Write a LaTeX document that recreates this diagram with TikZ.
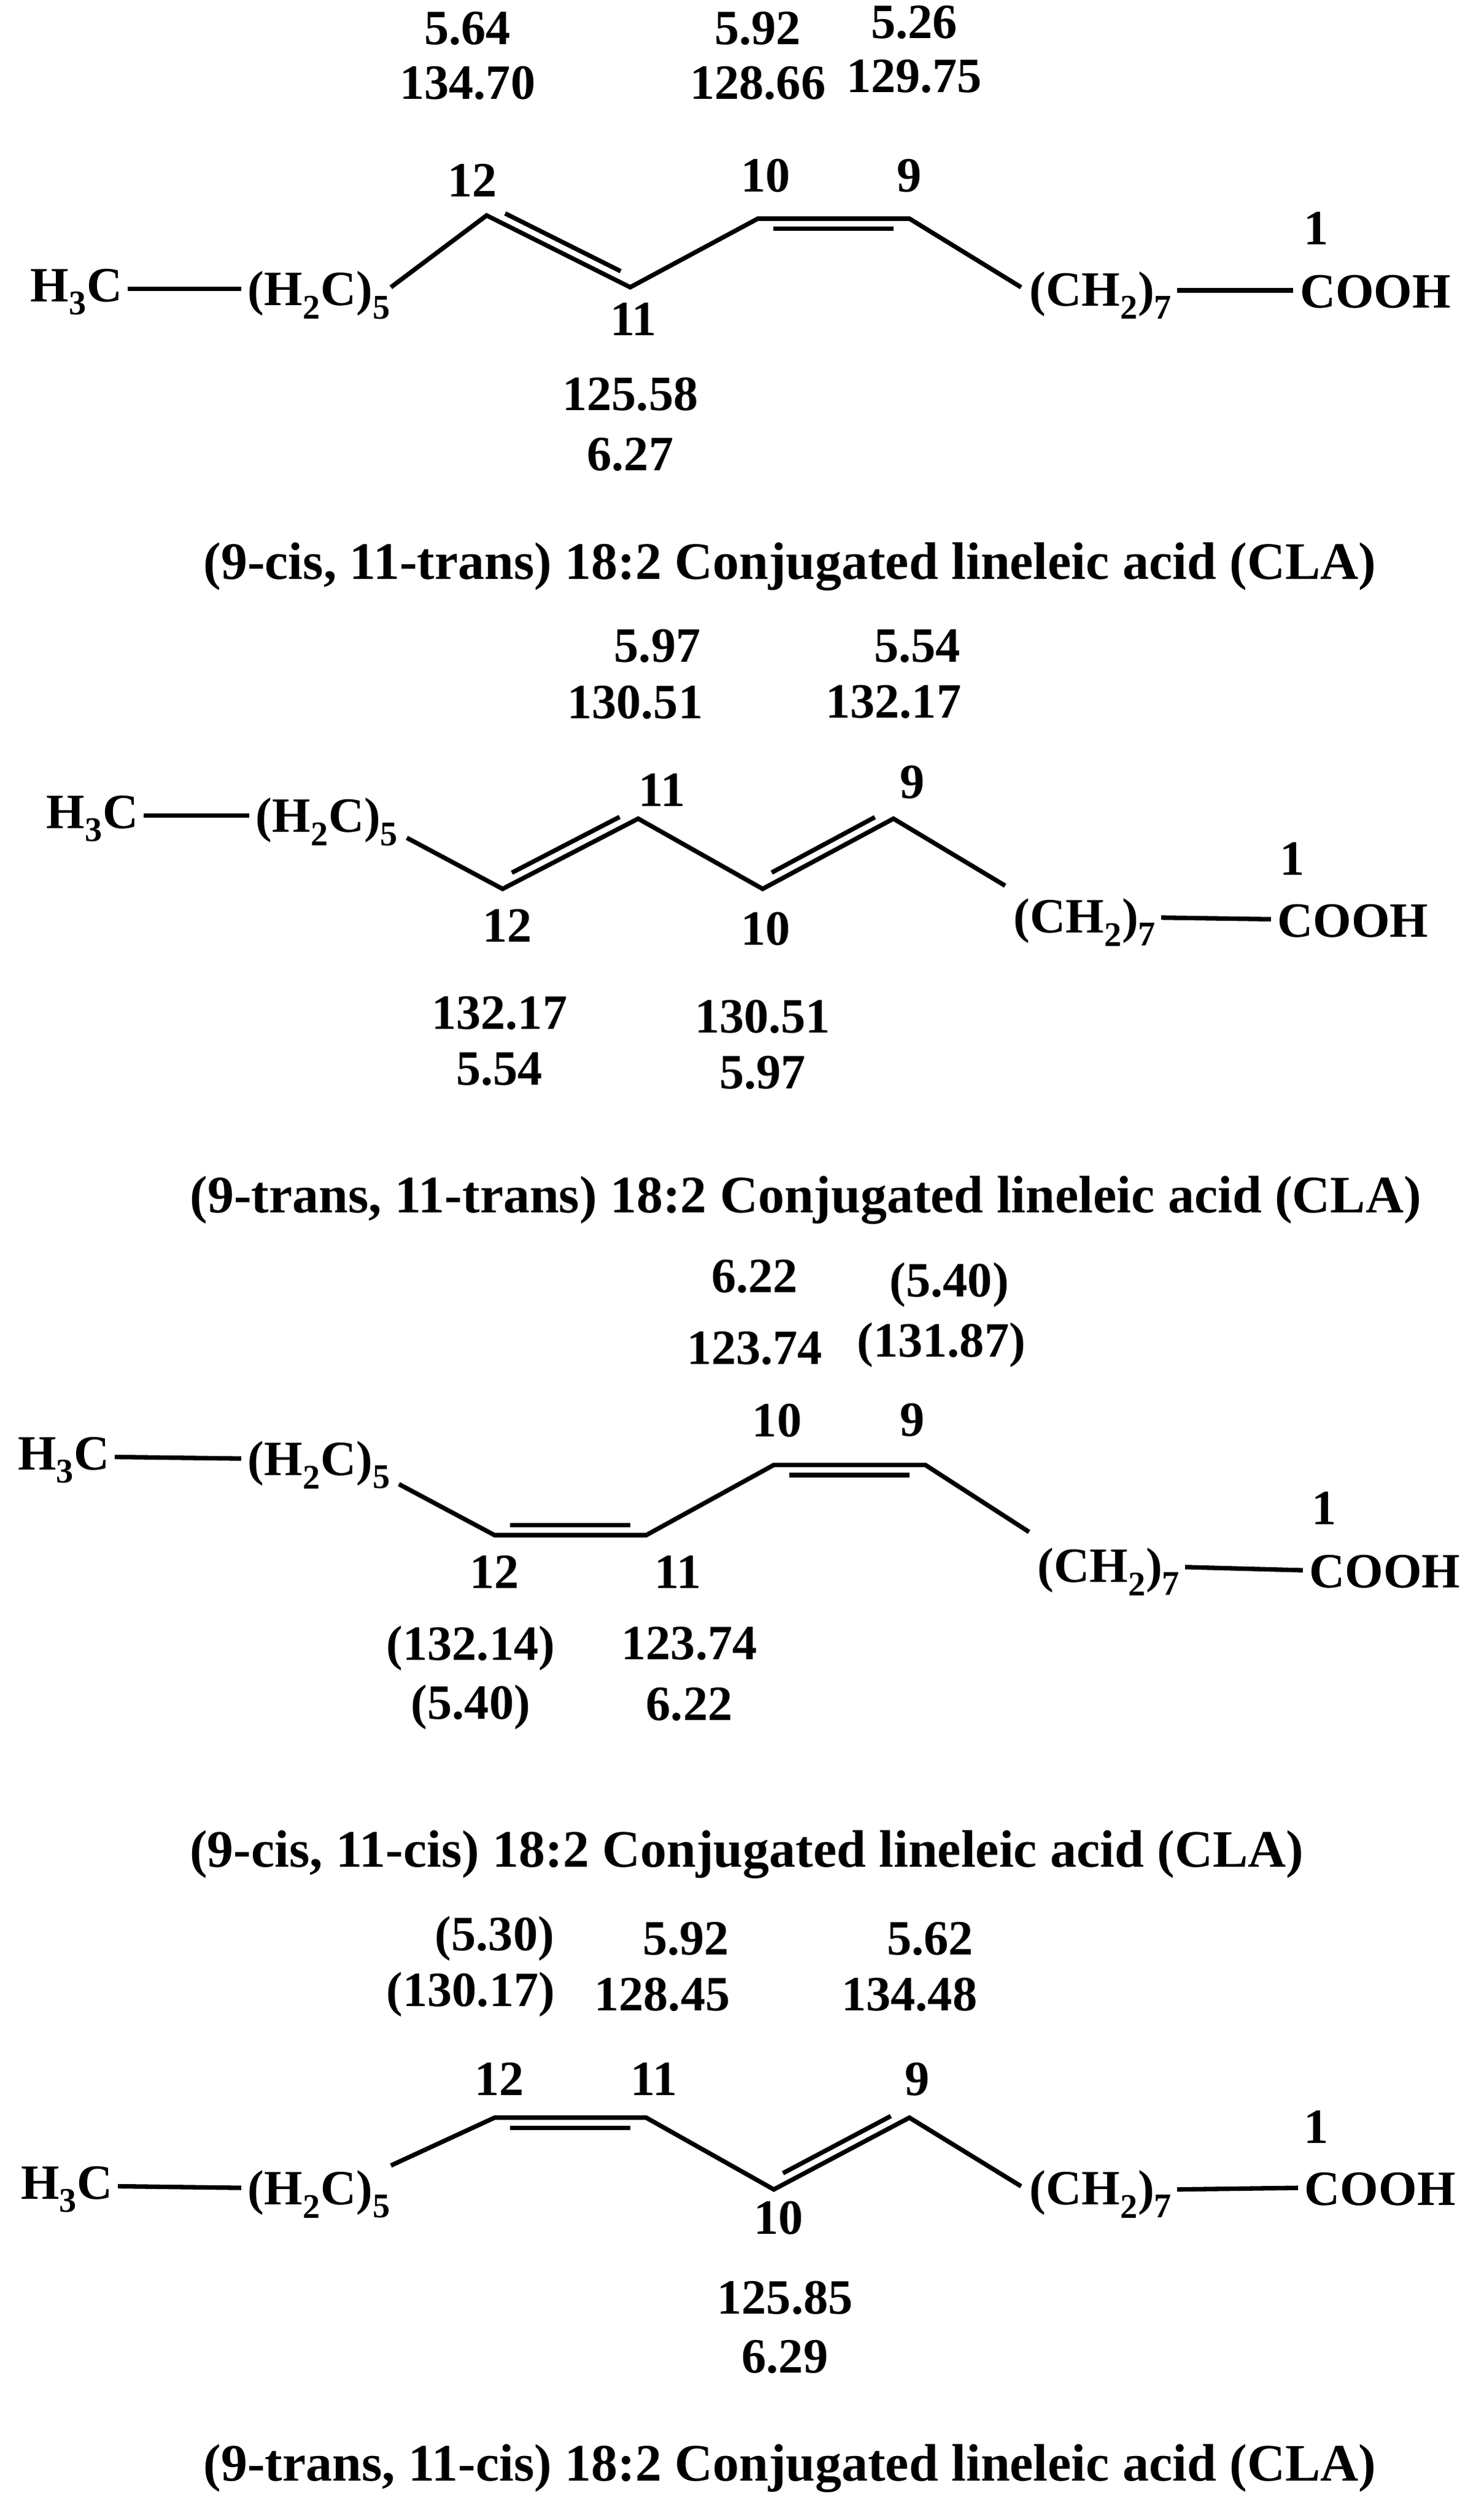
\documentclass[tikz,border=0pt]{standalone}
\usepackage{fontspec}
\setmainfont{Liberation Serif}
\usetikzlibrary{calc}
\tikzset{t/.style={font=\fontsize{44}{50}\selectfont\bfseries,inner sep=0pt},
tt/.style={font=\fontsize{47}{52}\selectfont\bfseries,inner sep=0pt},
bond/.style={line width=4pt},
c/.style={coordinate}}
\newcommand{\dbl}[3]{%
\draw[bond,shorten <=14pt,shorten >=14pt] ($(#1)!#3!90:(#2)$) -- ($(#2)!#3!-90:(#1)$);}
\begin{document}
\begin{tikzpicture}[x=0.05cm,y=-0.05cm]
\useasboundingbox (0,0) rectangle (930,1576);
% ---------- 1
\node[t] (a1) at (293,18) {5.64}; \node[t] (a2) at (293,52) {134.70};
\node[t] (a3) at (475,18) {5.92}; \node[t] (a4) at (475,52) {128.66};
\node[t] (a5) at (573,14) {5.26}; \node[t] (a6) at (573,48) {129.75};
\node[t] (n12a) at (296,113) {12}; \node[t] (n10a) at (480,110) {10};
\node[t] (n9a) at (570,110) {9}; \node[t] (n1a) at (825,143) {1};
\node[t] (hA) at (48,183) {H\textsubscript{3}C};
\node[t] (pA) at (200,185) {(H\textsubscript{2}C)\textsubscript{5}};
\node[t] (qA) at (690,185) {(CH\textsubscript{2})\textsubscript{7}};
\node[t] (cA) at (862,183) {COOH};
\coordinate (A0) at (245,180); \coordinate (A12) at (305,135); \coordinate (A11) at (395,180);
\coordinate (A10) at (475,137); \coordinate (A9) at (570,137); \coordinate (A8) at (640,180);
\draw[bond] ($(hA.east)+(3,-2)$) -- ($(pA.west)+(-4,-4)$);
\draw[bond] (A0) -- (A12) -- (A11) -- (A10) -- (A9) -- (A8);
\dbl{A12}{A11}{9pt}\dbl{A10}{A9}{-9pt}
\draw[bond] ($(qA.east)+(3,-3)$) -- ($(cA.west)+(-4,-1)$);
\node[t] (n11a) at (397,200) {11};
\node[t] (b1) at (395,247) {125.58}; \node[t] (b2) at (395,285) {6.27};
\node[tt] (T1) at (495,355) {(9-cis, 11-trans) 18:2 Conjugated lineleic acid (CLA)};
% ---------- 2
\node[t] (d1) at (412,405) {5.97}; \node[t] (d2) at (398,440) {130.51};
\node[t] (d3) at (575,405) {5.54}; \node[t] (d4) at (560,440) {132.17};
\node[t] (hB) at (58,513) {H\textsubscript{3}C};
\node[t] (pB) at (205,515) {(H\textsubscript{2}C)\textsubscript{5}};
\node[t] (qB) at (680,578) {(CH\textsubscript{2})\textsubscript{7}};
\node[t] (cB) at (848,577) {COOH};
\node[t] (n1b) at (810,538) {1};
\coordinate (B0) at (255,525); \coordinate (B12) at (315,557); \coordinate (B11) at (400,513);
\coordinate (B10) at (478,557); \coordinate (B9) at (560,513); \coordinate (B8) at (630,555);
\draw[bond] ($(hB.east)+(3,-2)$) -- ($(pB.west)+(-4,-4)$);
\draw[bond] (B0) -- (B12) -- (B11) -- (B10) -- (B9) -- (B8);
\dbl{B12}{B11}{9pt}\dbl{B10}{B9}{9pt}
\draw[bond] ($(qB.east)+(3,-3)$) -- ($(cB.west)+(-4,-1)$);
\node[t] (n11b) at (415,495) {11}; \node[t] (n9b) at (572,490) {9};
\node[t] (n12b) at (318,580) {12}; \node[t] (n10b) at (480,582) {10};
\node[t] (e1) at (313,635) {132.17}; \node[t] (e2) at (313,670) {5.54};
\node[t] (e3) at (478,637) {130.51}; \node[t] (e4) at (478,672) {5.97};
\node[tt] (T2) at (505,752) {(9-trans, 11-trans) 18:2 Conjugated lineleic acid (CLA)};
% ---------- 3
\node[t] (f1) at (473,800) {6.22}; \node[t] (f2) at (473,845) {123.74};
\node[t] (f3) at (595,805) {(5.40)}; \node[t] (f4) at (590,843) {(131.87)};
\node[t] (hC) at (40,915) {H\textsubscript{3}C};
\node[t] (pC) at (200,918) {(H\textsubscript{2}C)\textsubscript{5}};
\node[t] (qC) at (695,985) {(CH\textsubscript{2})\textsubscript{7}};
\node[t] (cC) at (868,985) {COOH};
\node[t] (n1c) at (830,945) {1};
\coordinate (C0) at (250,930); \coordinate (C12) at (310,962); \coordinate (C11) at (405,962);
\coordinate (C10) at (485,918); \coordinate (C9) at (580,918); \coordinate (C8) at (645,960);
\draw[bond] ($(hC.east)+(3,-2)$) -- ($(pC.west)+(-4,-4)$);
\draw[bond] (C0) -- (C12) -- (C11) -- (C10) -- (C9) -- (C8);
\dbl{C12}{C11}{9pt}\dbl{C10}{C9}{-9pt}
\draw[bond] ($(qC.east)+(3,-3)$) -- ($(cC.west)+(-4,-1)$);
\node[t] (n10c) at (487,890) {10}; \node[t] (n9c) at (572,890) {9};
\node[t] (n12c) at (310,985) {12}; \node[t] (n11c) at (425,985) {11};
\node[t] (g1) at (295,1033) {(132.14)}; \node[t] (g2) at (295,1070) {(5.40)};
\node[t] (g3) at (432,1030) {123.74}; \node[t] (g4) at (432,1068) {6.22};
\node[tt] (T3) at (468,1162) {(9-cis, 11-cis) 18:2 Conjugated lineleic acid (CLA)};
% ---------- 4
\node[t] (k1) at (310,1215) {(5.30)}; \node[t] (k2) at (295,1250) {(130.17)};
\node[t] (k3) at (430,1215) {5.92}; \node[t] (k4) at (415,1250) {128.45};
\node[t] (k5) at (583,1215) {5.62}; \node[t] (k6) at (570,1250) {134.48};
\node[t] (n12d) at (313,1303) {12}; \node[t] (n11d) at (410,1303) {11};
\node[t] (n9d) at (575,1303) {9}; \node[t] (n1d) at (825,1333) {1};
\node[t] (hD) at (42,1372) {H\textsubscript{3}C};
\node[t] (pD) at (200,1375) {(H\textsubscript{2}C)\textsubscript{5}};
\node[t] (qD) at (690,1375) {(CH\textsubscript{2})\textsubscript{7}};
\node[t] (cD) at (865,1372) {COOH};
\coordinate (D0) at (245,1357); \coordinate (D12) at (310,1327); \coordinate (D11) at (405,1327);
\coordinate (D10) at (485,1372); \coordinate (D9) at (570,1327); \coordinate (D8) at (640,1370);
\draw[bond] ($(hD.east)+(3,-2)$) -- ($(pD.west)+(-4,-4)$);
\draw[bond] (D0) -- (D12) -- (D11) -- (D10) -- (D9) -- (D8);
\dbl{D12}{D11}{-9pt}\dbl{D10}{D9}{9pt}
\draw[bond] ($(qD.east)+(3,-3)$) -- ($(cD.west)+(-4,-1)$);
\node[t] (n10d) at (488,1390) {10};
\node[t] (m1) at (492,1440) {125.85}; \node[t] (m2) at (492,1477) {6.29};
\node[tt] (T4) at (495,1547) {(9-trans, 11-cis) 18:2 Conjugated lineleic acid (CLA)};
\end{tikzpicture}
\end{document}
